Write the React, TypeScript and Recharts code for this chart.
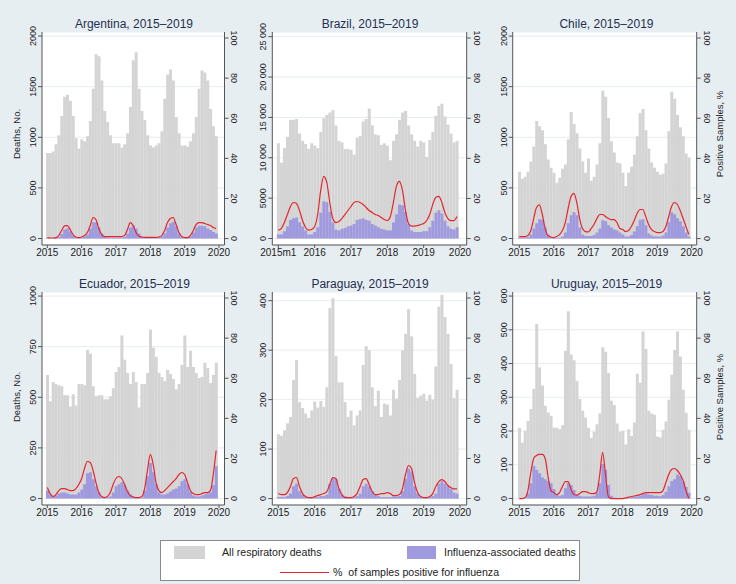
import React from 'react';
import { ComposedChart, Bar, Line, XAxis, YAxis, CartesianGrid } from 'recharts';

const FONT = '"Liberation Sans", Arial, Helvetica, sans-serif';
const BG = '#e7eef2';
const GRAY = '#d4d4d4';
const PURPLE = '#9f99de';
const RED = '#e3262d';
const AXIS = '#555555';
const TXT = '#222222';

// ---------- categories ----------
const MONTHS: string[] = [];
for (let y = 2015; y <= 2019; y++) for (let m = 1; m <= 12; m++) MONTHS.push(`${y}m${m}`);
MONTHS.push('2020m1');
const YEAR_TICKS = ['2015m1', '2016m1', '2017m1', '2018m1', '2019m1', '2020m1'];
const POS_TICKS = [0, 20, 40, 60, 80, 100];

// ---------- Argentina ----------
const ARG_ALL = [
  845, 845, 860, 930, 1020, 1210, 1400, 1420, 1360, 1210, 990, 890,
  980, 960, 1010, 1160, 1480, 1820, 1800, 1560, 1260, 1150, 1020, 940,
  940, 940, 900, 930, 1040, 1300, 1760, 1840, 1480, 1260, 1170, 1020,
  920, 900, 920, 940, 1060, 1380, 1620, 1670, 1560, 1200, 1040, 920,
  920, 910, 960, 1040, 1200, 1480, 1660, 1640, 1560, 1280, 1110, 1010,
];
const ARG_FLU = [
  2, 2, 3, 5, 15, 45, 90, 100, 70, 30, 10, 5,
  10, 20, 40, 100, 160, 160, 110, 50, 20, 10, 8, 8,
  8, 8, 8, 15, 50, 110, 130, 100, 50, 20, 10, 8,
  8, 8, 8, 10, 20, 50, 110, 150, 165, 120, 50, 15,
  8, 8, 20, 60, 110, 125, 125, 120, 100, 85, 65, 50,
];
const ARG_POS = [
  0.5, 0.3, 0.3, 0.5, 1.5, 4, 6.3, 6.5, 4.5, 2, 0.8, 0.5,
  0.8, 1.5, 3, 6.5, 10.5, 9.5, 5, 2, 1, 1, 1, 1,
  1, 1, 1, 1.5, 4.5, 8, 6.5, 3, 1.2, 0.8, 0.6, 0.6,
  0.6, 0.6, 0.6, 0.8, 1.5, 4, 8, 10, 10.5, 7, 3, 1,
  0.5, 0.5, 1.5, 4, 7, 8, 8, 7.5, 7, 6.5, 5.5, 5,
];

// ---------- Brazil ----------
const BRA_ALL = [
  11800, 9400, 11200, 12600, 14700, 14700, 14800, 13000, 12100, 11700, 11100, 11800,
  11500, 11200, 13200, 14900, 15300, 15600, 15900, 14000, 12100, 11900, 11100, 11100,
  11000, 10400, 12500, 12700, 14500, 14800, 16100, 14000, 12900, 12800, 11600, 11800,
  11500, 9700, 12100, 12900, 14700, 15600, 15800, 14000, 12900, 12100, 11400, 12100,
  11900, 10100, 12200, 13200, 15200, 16400, 16700, 15100, 14100, 13000, 11900, 12100,
];
const BRA_FLU = [
  500, 500, 900, 1500, 2300, 2500, 2600, 2000, 1500, 1000, 500, 500,
  800, 1400, 3200, 4600, 4500, 3300, 2000, 1100, 1000, 1200, 1300, 1500,
  1600, 1800, 2300, 2400, 2500, 2300, 2200, 1800, 1600, 1400, 1200, 1100,
  1000, 1000, 2000, 3000, 4200, 4100, 3300, 1800, 1000, 800, 800, 800,
  900, 900, 1400, 2200, 3200, 3500, 3100, 2200, 1500, 1200, 1100, 1400,
];
const BRA_POS = [
  4.2, 5, 8, 12, 16, 18, 17.5, 14, 9, 5.5, 4.2, 4.5,
  6, 12, 24, 31, 28, 18, 10, 8, 8.5, 10, 12, 14,
  16, 18, 18.5, 18, 17, 15.5, 14, 13, 12, 11.5, 10.5, 9.5,
  9, 11, 18, 26, 28.5, 24, 14, 7.5, 6.2, 6.2, 6.5, 7,
  7.5, 9, 12, 17, 20.5, 21, 18, 13, 10, 9, 9, 11,
];

// ---------- Chile ----------
const CHL_ALL = [
  660, 590, 610, 660, 760, 910, 1160, 1110, 1070, 930, 780, 700,
  650, 550, 600, 690, 730, 980, 1250, 1130, 1040, 890, 760, 650,
  790, 570, 610, 730, 940, 1460, 1400, 1190, 960, 850, 750, 740,
  650, 520, 650, 710, 830, 1010, 1240, 1280, 1070, 890, 750, 700,
  660, 630, 640, 740, 1060, 1450, 1380, 1220, 1100, 1010, 840, 800,
];
const CHL_FLU = [
  10, 10, 10, 15, 40, 100, 150, 190, 185, 110, 40, 15,
  8, 5, 8, 20, 60, 150, 230, 260, 230, 110, 40, 25,
  25, 25, 35, 60, 100, 180, 170, 130, 110, 90, 80, 60,
  40, 20, 20, 35, 70, 120, 185, 190, 130, 50, 30, 20,
  20, 20, 30, 60, 160, 260, 240, 200, 170, 120, 60, 20,
];
const CHL_POS = [
  1, 1, 1, 1.5, 4, 10, 15.5, 16.8, 12, 5, 1.5, 0.8,
  0.5, 1, 2, 4, 8, 15, 21, 22.5, 18, 10, 5, 3.5,
  3.3, 5, 7, 10, 12, 12, 11, 10, 9.5, 9.5, 8, 5,
  4.5, 3.5, 4, 6, 9, 12.5, 14.5, 14.5, 11, 7, 4.5, 3.5,
  3, 3, 3.5, 6, 11, 16, 18, 17, 14, 10, 6, 2,
];

// ---------- Ecuador ----------
const ECU_ALL = [
  610, 480, 575, 565, 560, 555, 510, 510, 455, 515, 460, 565,
  565, 560, 735, 715, 555, 505, 510, 510, 490, 490, 505, 545,
  625, 650, 805, 685, 620, 565, 625, 575, 450, 565, 565, 620,
  835, 745, 700, 620, 600, 580, 635, 615, 590, 540, 565, 660,
  805, 650, 730, 650, 620, 595, 600, 670, 645, 570, 610, 670,
];
const ECU_FLU = [
  40, 20, 10, 15, 25, 30, 30, 25, 20, 20, 20, 30,
  45, 70, 125, 130, 95, 60, 30, 10, 5, 5, 10, 30,
  60, 70, 80, 65, 40, 20, 10, 5, 5, 5, 40, 110,
  175, 130, 70, 30, 20, 20, 25, 35, 45, 50, 60, 85,
  95, 70, 35, 15, 10, 10, 15, 20, 25, 30, 65, 160,
];
const ECU_POS = [
  5.5, 2.5, 1, 2, 4, 5, 5, 4.5, 4, 4, 5, 7,
  10, 15, 18.5, 18, 14, 8, 3, 1, 0.5, 1, 3, 7,
  10, 11, 10, 7, 3.5, 1.5, 0.8, 0.5, 0.5, 1, 5, 14,
  22, 17, 8, 4, 3, 4, 5.5, 7, 8.5, 10, 12, 13,
  12, 8, 4, 2.5, 2, 2, 2.5, 3, 3, 4, 12, 24,
];

// ---------- Paraguay ----------
const PRY_ALL = [
  130, 127, 138, 152, 165, 240, 280, 195, 183, 172, 163, 178,
  196, 184, 197, 185, 225, 385, 405, 288, 235, 235, 195, 165,
  178, 148, 168, 178, 270, 308, 300, 225, 187, 218, 165, 192,
  190, 168, 220, 202, 240, 300, 333, 383, 328, 252, 204, 208,
  212, 198, 210, 200, 267, 388, 412, 367, 333, 272, 203, 220,
];
const PRY_FLU = [
  3, 3, 3, 5, 10, 25, 30, 15, 8, 4, 3, 3,
  3, 3, 5, 5, 8, 30, 42, 40, 20, 8, 5, 3,
  3, 3, 5, 10, 25, 30, 25, 15, 8, 5, 3, 3,
  3, 3, 4, 4, 5, 15, 40, 60, 55, 25, 10, 5,
  3, 3, 3, 5, 10, 30, 35, 30, 25, 20, 12, 10,
];
const PRY_POS = [
  2.5, 2, 2, 3, 6, 10, 10.5, 6, 2.5, 1, 0.5, 0.5,
  1, 1.5, 2, 2.5, 3.5, 7, 10.5, 10, 5, 2, 0.5, 0.5,
  0.5, 1, 2.5, 6, 9.5, 10, 7, 3.5, 2, 2, 2.5, 2.5,
  3, 2.5, 1.5, 1.5, 2, 5, 12, 16.5, 15, 8, 3, 1,
  0.5, 0.5, 1, 2.5, 6, 8.5, 9.5, 8.5, 6.5, 5.5, 4.8, 4.8,
];

// ---------- Uruguay ----------
const URY_ALL = [
  210, 165, 200, 230, 265, 325, 517, 388, 335, 275, 255, 245,
  210, 210, 205, 217, 438, 555, 427, 410, 348, 295, 260, 240,
  210, 180, 198, 220, 252, 448, 435, 372, 290, 277, 222, 198,
  200, 160, 205, 185, 225, 370, 343, 495, 443, 260, 252, 248,
  184, 181, 204, 228, 293, 367, 440, 495, 421, 322, 254, 204,
];
const URY_FLU = [
  0, 0, 3, 15, 45, 97, 85, 75, 62, 57, 52, 45,
  28, 12, 8, 10, 30, 45, 40, 25, 12, 8, 6, 6,
  6, 6, 8, 18, 45, 102, 85, 40, 8, 2, 0, 0,
  0, 2, 3, 4, 5, 6, 8, 12, 15, 12, 10, 8,
  8, 7, 10, 20, 36, 52, 57, 71, 67, 50, 34, 17,
];
const URY_POS = [
  0, 0, 0.5, 4, 13, 20, 21.5, 22, 22, 20, 11, 4,
  3, 2, 3, 6, 8.5, 8.5, 4.5, 2, 1.7, 2.5, 3.5, 3.5,
  3, 2.5, 2.5, 3.5, 12, 23, 12, 1, 0, 0, 0, 0,
  0, 0.3, 0.7, 1, 1.3, 1.6, 2, 2.5, 3, 3, 3, 3,
  3, 3, 4, 8, 12, 14.5, 15, 14, 12, 9, 4, 0,
];

// ---------- layout ----------
const COLS = [
  { x0: 0, W: 245, pl: 42, pr: 224.5, padL: 3.87, padR: 4.07 },
  { x0: 245, W: 245, pl: 272.3, pr: 466.7, padL: 4.49, padR: 5.19 },
  { x0: 490, W: 246, pl: 512.7, pr: 696.7, padL: 5.16, padR: 3.56 },
];
const ROWS = [0, 260];
const CH_H = 275;
const M_TOP = 32;
const X_H = 30;

const plainFmt = (v: number) => `${v}`;
const spaceFmt = (v: number) => (v >= 10000 ? `${Math.floor(v / 1000)} 000` : `${v}`);

const LeftTick = (props: any) => {
  const { x, y, payload, fmt } = props;
  const cx = x - 3;
  return (
    <text x={cx} y={y} transform={`rotate(-90 ${cx} ${y})`} textAnchor="middle" dy="0.35em"
      fontSize={9} fill={TXT} fontFamily={FONT}>
      {fmt(payload.value)}
    </text>
  );
};
const RightTick = (props: any) => {
  const { x, y, payload } = props;
  const cx = x + 4;
  return (
    <text x={cx} y={y} transform={`rotate(90 ${cx} ${y})`} textAnchor="middle" dy="0.35em"
      fontSize={9} fill={TXT} fontFamily={FONT}>
      {payload.value}
    </text>
  );
};

type PanelProps = {
  title: string;
  all: number[];
  flu: number[];
  pos: number[];
  col: number;
  row: number;
  leftDomain: [number, number];
  leftTicks: number[];
  leftFmt: (v: number) => string;
  firstLabel?: string;
};

function Panel(p: PanelProps) {
  const c = COLS[p.col];
  const top = ROWS[p.row];
  const data = MONTHS.map((m, i) => ({
    m,
    all: i < p.all.length ? p.all[i] : null,
    flu: i < p.flu.length ? p.flu[i] : null,
    pos: i < p.pos.length ? p.pos[i] : null,
  }));
  const xFmt = (v: string) => (v === '2015m1' && p.firstLabel ? p.firstLabel : v.slice(0, 4));
  return (
    <div style={{ position: 'absolute', left: c.x0, top, width: c.W, height: CH_H }}>
      <ComposedChart width={c.W} height={CH_H} data={data}
        margin={{ top: M_TOP, right: 0, bottom: 0, left: 0 }} barCategoryGap="4%">
        <CartesianGrid xAxisId="a" yAxisId="L" vertical={false} stroke="#e6ecef" fill="#ffffff" />
        <XAxis xAxisId="a" dataKey="m" type="category" ticks={YEAR_TICKS} interval={0}
          tickFormatter={xFmt} height={X_H} tickSize={3} tickMargin={1}
          padding={{ left: c.padL, right: c.padR }}
          axisLine={{ stroke: AXIS }} tickLine={{ stroke: AXIS }}
          tick={{ fontSize: 10, fill: TXT, fontFamily: FONT }} />
        <XAxis xAxisId="b" dataKey="m" type="category" hide padding={{ left: c.padL, right: c.padR }} />
        <YAxis yAxisId="L" orientation="left" type="number" width={c.pl - c.x0}
          domain={p.leftDomain} allowDataOverflow ticks={p.leftTicks} interval={0}
          tickSize={4} axisLine={{ stroke: AXIS }} tickLine={{ stroke: AXIS }}
          tick={<LeftTick fmt={p.leftFmt} />} />
        <YAxis yAxisId="R" orientation="right" type="number" width={c.x0 + c.W - c.pr}
          domain={[-3.2, 103]} allowDataOverflow ticks={POS_TICKS} interval={0}
          tickSize={4} axisLine={{ stroke: AXIS }} tickLine={{ stroke: AXIS }}
          tick={<RightTick />} />
        <Bar xAxisId="a" yAxisId="L" dataKey="all" fill={GRAY} isAnimationActive={false} />
        <Bar xAxisId="b" yAxisId="L" dataKey="flu" fill={PURPLE} isAnimationActive={false} />
        <Line xAxisId="a" yAxisId="R" dataKey="pos" type="monotone" stroke={RED} strokeWidth={1.2}
          dot={false} activeDot={false} isAnimationActive={false} />
      </ComposedChart>
    </div>
  );
}

const TITLES = [
  { t: 'Argentina, 2015–2019', x: 134, y: 27.5 },
  { t: 'Brazil, 2015–2019', x: 370, y: 27.5 },
  { t: 'Chile, 2015–2019', x: 606.5, y: 27.5 },
  { t: 'Ecuador, 2015–2019', x: 134.5, y: 287.5 },
  { t: 'Paraguay, 2015–2019', x: 370, y: 287.5 },
  { t: 'Uruguay, 2015–2019', x: 606.5, y: 287.5 },
];
const AXIS_TITLES = [
  { t: 'Deaths, No.', x: 16.7, y: 134 },
  { t: 'Deaths, No.', x: 16.7, y: 397 },
  { t: 'Positive Samples, %', x: 720, y: 134 },
  { t: 'Positive Samples, %', x: 720, y: 397 },
];

export default function App() {
  return (
    <div style={{ position: 'absolute', left: 0, top: 0, width: 736, height: 584, background: BG, overflow: 'hidden', fontFamily: FONT }}>
      <Panel title="Argentina" all={ARG_ALL} flu={ARG_FLU} pos={ARG_POS} col={0} row={0}
        leftDomain={[-64, 2040]} leftTicks={[0, 500, 1000, 1500, 2000]} leftFmt={plainFmt} />
      <Panel title="Brazil" all={BRA_ALL} flu={BRA_FLU} pos={BRA_POS} col={1} row={0}
        leftDomain={[-805, 25580]} leftTicks={[0, 5000, 10000, 15000, 20000, 25000]} leftFmt={spaceFmt}
        firstLabel="2015m1" />
      <Panel title="Chile" all={CHL_ALL} flu={CHL_FLU} pos={CHL_POS} col={2} row={0}
        leftDomain={[-64, 2040]} leftTicks={[0, 500, 1000, 1500, 2000]} leftFmt={plainFmt} />
      <Panel title="Ecuador" all={ECU_ALL} flu={ECU_FLU} pos={ECU_POS} col={0} row={1}
        leftDomain={[-32, 1020]} leftTicks={[0, 250, 500, 750, 1000]} leftFmt={plainFmt} />
      <Panel title="Paraguay" all={PRY_ALL} flu={PRY_FLU} pos={PRY_POS} col={1} row={1}
        leftDomain={[-13, 417.6]} leftTicks={[0, 100, 200, 300, 400]} leftFmt={plainFmt} />
      <Panel title="Uruguay" all={URY_ALL} flu={URY_FLU} pos={URY_POS} col={2} row={1}
        leftDomain={[-19.3, 612]} leftTicks={[0, 100, 200, 300, 400, 500, 600]} leftFmt={plainFmt} />

      <svg width={736} height={584} style={{ position: 'absolute', left: 0, top: 0, pointerEvents: 'none' }}>
        {TITLES.map((d) => (
          <text key={d.t} x={d.x} y={d.y} textAnchor="middle" fontSize={12} fill="#1f2f4f" fontFamily={FONT}>{d.t}</text>
        ))}
        {AXIS_TITLES.map((d, i) => (
          <text key={i} x={d.x} y={d.y} transform={`rotate(-90 ${d.x} ${d.y})`} textAnchor="middle" dy="0.35em"
            fontSize={9.5} fill={TXT} fontFamily={FONT}>{d.t}</text>
        ))}
      </svg>

      <div style={{ position: 'absolute', left: 160, top: 540, width: 420, height: 41, background: '#fff', border: '1px solid #8a8a8a', boxSizing: 'border-box' }}>
        <div style={{ position: 'absolute', left: 13, top: 5, width: 31, height: 13, background: GRAY }} />
        <div style={{ position: 'absolute', left: 61, top: 4, fontSize: 10.6, lineHeight: '15px', color: TXT, whiteSpace: 'pre' }}>All respiratory deaths</div>
        <div style={{ position: 'absolute', left: 246, top: 5, width: 29, height: 13, background: PURPLE }} />
        <div style={{ position: 'absolute', left: 283, top: 4, fontSize: 10.6, lineHeight: '15px', color: TXT, whiteSpace: 'pre' }}>Influenza-associated deaths</div>
        <div style={{ position: 'absolute', left: 119, top: 30.5, width: 49, height: 1.4, background: RED }} />
        <div style={{ position: 'absolute', left: 172, top: 24, fontSize: 10.6, lineHeight: '15px', color: TXT, whiteSpace: 'pre' }}>{'%  of samples positive for influenza'}</div>
      </div>
    </div>
  );
}
